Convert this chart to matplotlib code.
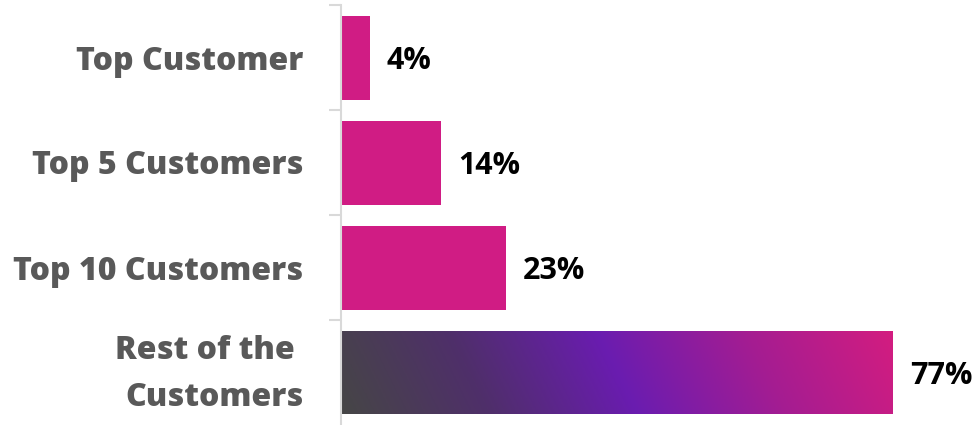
import matplotlib
matplotlib.use("Agg")
import matplotlib.pyplot as plt
import numpy as np
from matplotlib.colors import LinearSegmentedColormap

categories = ["Top Customer", "Top 5 Customers", "Top 10 Customers", "Rest of the \nCustomers"]
values = [4, 14, 23, 77]
labels = ["4%", "14%", "23%", "77%"]

bar_color = "#d01c84"
grad_colors = ["#464646", "#4f2f6a", "#6a1cb0", "#a41d92", "#d31c80"]

W, H = 979, 425
fig = plt.figure(figsize=(W / 100, H / 100), dpi=100)
ax = fig.add_axes([341 / W, 0, 1 - 341 / W, 420 / H])

y = np.arange(len(categories))
bars = ax.barh(y, values, height=0.8, color=bar_color, left=0)
ax.set_xlim(0, 89.0)
ax.set_ylim(3.5, -0.5)

# gradient on last bar
last = bars[-1]
last.set_facecolor("none")
cmap = LinearSegmentedColormap.from_list("g", grad_colors)
nx, ny = 400, 60
xx, yy = np.meshgrid(np.linspace(0, 1, nx), np.linspace(0, 1, ny))
grad = np.clip(xx * 0.93 + (1 - yy) * 0.07, 0, 1)
x0 = 0
x1 = values[-1]
yb = y[-1] - 0.4
yt = y[-1] + 0.4
im = ax.imshow(grad, cmap=cmap, aspect="auto", extent=[x0, x1, yt, yb],
               origin="upper", interpolation="bilinear", zorder=2)
im.set_clip_path(last)
ax.set_xlim(0, 89.0)
ax.set_ylim(3.5, -0.5)

for yi, v, lab in zip(y, values, labels):
    ax.text(v + 2.4, yi + 0.03, lab, va="center", ha="left", fontsize=22,
            fontweight="bold", color="#000000", family="Open Sans")

for s in ["top", "right", "bottom"]:
    ax.spines[s].set_visible(False)
ax.spines["left"].set_color("#d9d9d9")
ax.spines["left"].set_linewidth(1.5)
ax.set_xticks([])
ax.set_yticks(y)
tick_texts = categories[:-1] + [""]
ax.set_yticklabels(tick_texts, fontsize=23, fontweight="heavy", color="#595959",
                   family="Open Sans")
ax.tick_params(axis="y", which="major", length=0, pad=27)
ax.set_yticks([-0.5, 0.5, 1.5, 2.5], minor=True)
ax.tick_params(axis="y", which="minor", length=9, width=1.5, color="#d9d9d9")

ax.annotate(categories[-1], xy=(0, y[-1]), xycoords=("axes fraction", "data"),
            xytext=(-27, -1.5), textcoords="offset points", ha="right", va="center",
            multialignment="right", fontsize=23, fontweight="heavy",
            color="#595959", family="Open Sans", linespacing=1.62,
            annotation_clip=False)

fig.savefig("out.png", dpi=100)
